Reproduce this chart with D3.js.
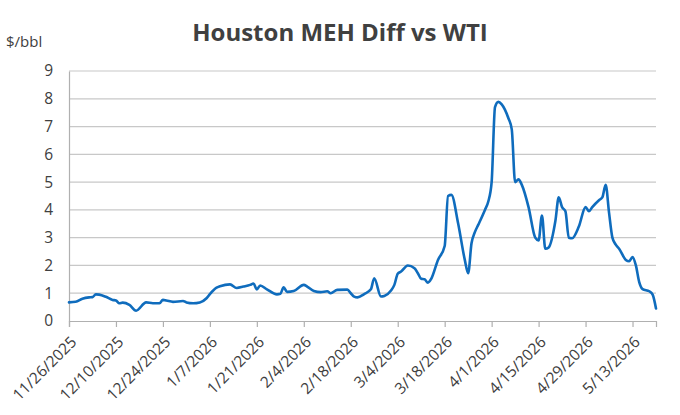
<!DOCTYPE html>
<html><head><meta charset="utf-8">
<script src="https://cdn.jsdelivr.net/npm/d3@7"></script>
<style>html,body{margin:0;padding:0;background:#fff;}svg{display:block;}</style>
</head><body>
<svg id="chart" width="680" height="415"></svg>
<script>
const title = "Houston MEH Diff vs WTI";
const yUnit = "$/bbl";
const dates = ["2025-11-26","2025-11-28","2025-11-30","2025-12-02","2025-12-03","2025-12-04","2025-12-05","2025-12-07","2025-12-09","2025-12-10","2025-12-11","2025-12-12","2025-12-14","2025-12-16","2025-12-19","2025-12-21","2025-12-23","2025-12-24","2025-12-25","2025-12-27","2025-12-30","2025-12-31","2026-01-02","2026-01-04","2026-01-06","2026-01-07","2026-01-09","2026-01-10","2026-01-13","2026-01-15","2026-01-17","2026-01-19","2026-01-20","2026-01-21","2026-01-22","2026-01-24","2026-01-27","2026-01-28","2026-01-29","2026-01-30","2026-02-01","2026-02-04","2026-02-05","2026-02-07","2026-02-09","2026-02-11","2026-02-12","2026-02-14","2026-02-17","2026-02-18","2026-02-19","2026-02-20","2026-02-22","2026-02-24","2026-02-25","2026-02-27","2026-02-28","2026-03-02","2026-03-03","2026-03-04","2026-03-05","2026-03-07","2026-03-09","2026-03-10","2026-03-11","2026-03-12","2026-03-13","2026-03-14","2026-03-16","2026-03-18","2026-03-19","2026-03-20","2026-03-22","2026-03-24","2026-03-25","2026-03-26","2026-03-27","2026-03-28","2026-03-30","2026-03-31","2026-04-01","2026-04-02","2026-04-03","2026-04-04","2026-04-06","2026-04-07","2026-04-08","2026-04-09","2026-04-10","2026-04-12","2026-04-14","2026-04-15","2026-04-16","2026-04-17","2026-04-18","2026-04-20","2026-04-21","2026-04-22","2026-04-23","2026-04-24","2026-04-25","2026-04-27","2026-04-29","2026-04-30","2026-05-01","2026-05-03","2026-05-04","2026-05-05","2026-05-06","2026-05-07","2026-05-08","2026-05-09","2026-05-11","2026-05-12","2026-05-13","2026-05-14","2026-05-15","2026-05-16","2026-05-18","2026-05-19","2026-05-20"];
const values = [0.67,0.69,0.80,0.85,0.86,0.96,0.95,0.87,0.76,0.74,0.64,0.66,0.58,0.37,0.67,0.64,0.64,0.76,0.74,0.69,0.72,0.67,0.64,0.67,0.82,0.97,1.20,1.25,1.32,1.19,1.24,1.30,1.35,1.14,1.28,1.14,0.96,0.98,1.21,1.05,1.08,1.30,1.24,1.08,1.04,1.07,1.00,1.12,1.13,1.00,0.88,0.85,0.97,1.14,1.54,0.88,0.90,1.10,1.30,1.70,1.78,2.00,1.90,1.72,1.52,1.50,1.38,1.52,2.20,2.70,4.50,4.54,3.52,2.20,1.72,2.80,3.20,3.46,4.00,4.30,5.00,7.70,7.89,7.80,7.30,6.90,5.00,5.10,4.90,4.10,3.00,2.90,3.80,2.60,2.65,3.60,4.45,4.10,3.95,3.00,2.98,3.40,4.10,3.95,4.10,4.35,4.45,4.90,3.90,3.00,2.75,2.60,2.20,2.15,2.30,2.00,1.40,1.15,1.07,0.95,0.45];
const xTickLabels = ["11/26/2025","12/10/2025","12/24/2025","1/7/2026","1/21/2026","2/4/2026","2/18/2026","3/4/2026","3/18/2026","4/1/2026","4/15/2026","4/29/2026","5/13/2026"];
const yTicks = [0,1,2,3,4,5,6,7,8,9];

const parse = d3.timeParse("%Y-%m-%d");
const parseTick = d3.timeParse("%m/%d/%Y");
const data = dates.map((d,i)=>({date: parse(d), value: values[i]}));

const svg = d3.select("#chart");
const font = "'Open Sans', 'Liberation Sans', sans-serif";
const m = {left:69, right:24, top:71, bottom:94};
const W = 680, H = 415;

const x = d3.scaleTime().domain([parse("2025-11-26"), parse("2026-05-20")]).range([m.left, W - m.right]);
const y = d3.scaleLinear().domain([0,9]).range([H - m.bottom, m.top]);

// gridlines
svg.append("g").selectAll("line").data(yTicks.filter(t=>t>0)).join("line")
  .attr("x1", m.left).attr("x2", W - m.right)
  .attr("y1", d=>y(d)).attr("y2", d=>y(d))
  .attr("stroke", "#c8c8c8").attr("stroke-width", 1.2);

// y axis
const yAxis = svg.append("g").attr("transform", `translate(${m.left},0)`)
  .call(d3.axisLeft(y).tickValues(yTicks).tickSize(0).tickPadding(16));
yAxis.select(".domain").attr("stroke", "#b0b0b0").attr("stroke-width", 1.2);
yAxis.selectAll("text").attr("font-family", font).attr("font-size", 15.5).attr("fill", "#404040");

// x axis
const xAxis = svg.append("g").attr("transform", `translate(0,${y(0)})`)
  .call(d3.axisBottom(x).tickValues(xTickLabels.map(parseTick)).tickSize(6).tickFormat((d,i)=>xTickLabels[i]));
xAxis.select(".domain").attr("stroke", "#b0b0b0").attr("stroke-width", 1.2);
xAxis.selectAll(".tick line").attr("stroke", "#b0b0b0").attr("stroke-width", 1.2);
xAxis.selectAll("text").attr("font-family", font).attr("font-size", 15.5).attr("fill", "#404040")
  .attr("text-anchor", "end").attr("dy", null).attr("y", 0)
  .attr("transform", "translate(8,22) rotate(-45)");

// line
svg.append("path").datum(data)
  .attr("fill", "none").attr("stroke", "#0f6cbd").attr("stroke-width", 2.6)
  .attr("stroke-linejoin", "round").attr("stroke-linecap", "round")
  .attr("d", d3.line().x(d=>x(d.date)).y(d=>y(d.value)).curve(d3.curveMonotoneX));

// title
svg.append("text").attr("x", 340).attr("y", 41).attr("text-anchor", "middle")
  .attr("font-family", font).attr("font-weight", "bold").attr("font-size", 24).attr("fill", "#404040")
  .text(title);
svg.append("text").attr("x", 6).attr("y", 47)
  .attr("font-family", font).attr("font-size", 15).attr("fill", "#404040")
  .text(yUnit);
</script>
</body></html>
